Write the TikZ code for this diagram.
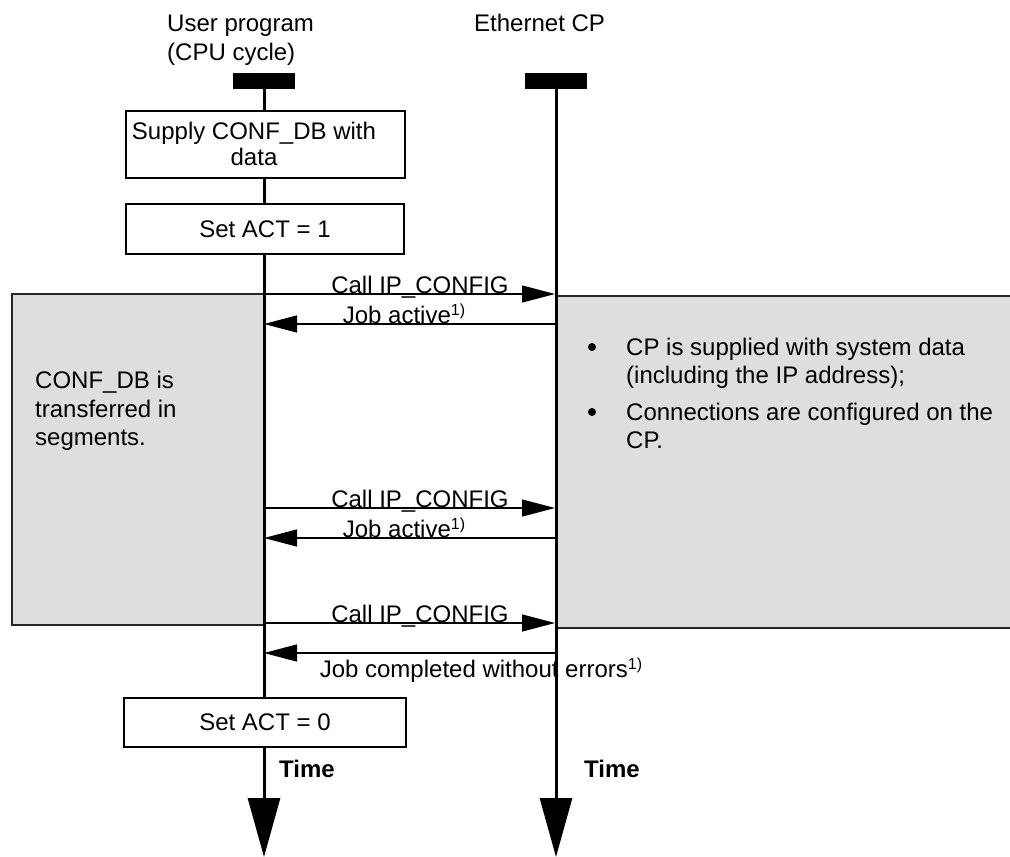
\documentclass[tikz,border=0pt]{standalone}
\usepackage{fontspec}
\setmainfont{Liberation Sans}
\usetikzlibrary{arrows.meta}
\definecolor{panelgray}{HTML}{DEDEDE}
\newcommand\supone{\raisebox{8pt}{\fontsize{16}{16}\selectfont 1)}}
\tikzset{
  txt/.style={font=\fontsize{24}{29}\selectfont, inner sep=0pt},
  stepbox/.style={draw=black, line width=1.3pt, fill=white, inner sep=2pt, align=center,
    font=\fontsize{24}{26}\selectfont},
  panel/.style={draw=black!85, line width=1.6pt, fill=panelgray},
  lifeline/.style={line width=3pt, -{Triangle[length=59pt,width=32pt]}},
  msg/.style={line width=1.3pt, -{Triangle[length=33pt,width=17pt]}},
  bar/.style={fill=black, minimum width=62pt, minimum height=16pt, inner sep=0pt},
  dot/.style={circle, fill=black, minimum size=8pt, inner sep=0pt}
}
\begin{document}
\begin{tikzpicture}[x=1pt,y=-1pt]
\useasboundingbox (0,0) rectangle (1010,857);
% grey panels
\node[panel, minimum width=253pt, minimum height=331pt, inner sep=0pt, anchor=north west] (pL) at (11,293) {};
\node[panel, minimum width=460pt, minimum height=332pt, inner sep=0pt, anchor=north west] (pR) at (556,295) {};
% titles
\node[txt, anchor=base west] (tU1) at (167,31) {User program};
\node[txt, anchor=base west] (tU2) at (167,60) {(CPU cycle)};
\node[txt, anchor=base west] (tE) at (474,31) {Ethernet CP};
% bars
\node[bar] (barL) at (264,81) {};
\node[bar] (barR) at (556,81) {};
\coordinate (endL) at (264,857);
\coordinate (endR) at (556,857);
% lifelines
\draw[lifeline] (barL.south) -- (endL);
\draw[lifeline] (barR.south) -- (endR);
% step boxes
\node[stepbox, minimum width=279pt, minimum height=67pt] (b1) at (265.5,144.5) {};
\node[txt, align=center, font=\fontsize{24}{26}\selectfont, anchor=base] (b1t) at (254,165.5) {Supply CONF\_DB with\\data};
\node[stepbox, minimum width=278pt, minimum height=50pt] (b2) at (265,229) {Set ACT = 1};
\node[stepbox, minimum width=282pt, minimum height=49pt] (b3) at (265,722.5) {Set ACT = 0};
% panel texts
\node[txt, anchor=base west] (l1) at (35,388) {CONF\_DB is};
\node[txt, anchor=base west] (l2) at (35,417) {transferred in};
\node[txt, anchor=base west] (l3) at (35,445) {segments.};
\node[dot] (bu1) at (592,347) {};
\node[txt, anchor=base west] (r1) at (626,355) {CP is supplied with system data};
\node[txt, anchor=base west] (r2) at (626,383) {(including the IP address);};
\node[dot] (bu2) at (592,412) {};
\node[txt, anchor=base west] (r3) at (626,420) {Connections are configured on the};
\node[txt, anchor=base west] (r4) at (626,448) {CP.};
% message coordinates
\coordinate (c1L) at (264,294); \coordinate (c1R) at (555,294);
\coordinate (a1L) at (264,324); \coordinate (a1R) at (555,324);
\coordinate (c2L) at (264,508); \coordinate (c2R) at (555,508);
\coordinate (a2L) at (264,538); \coordinate (a2R) at (555,538);
\coordinate (c3L) at (264,623); \coordinate (c3R) at (555,623);
\coordinate (a3L) at (264,653); \coordinate (a3R) at (555,653);
\draw[msg] (c1L) -- (c1R);
\draw[msg] (a1R) -- (a1L);
\draw[msg] (c2L) -- (c2R);
\draw[msg] (a2R) -- (a2L);
\draw[msg] (c3L) -- (c3R);
\draw[msg] (a3R) -- (a3L);
% message labels
\node[txt, anchor=base] (m1) at (420,293.5) {Call IP\_CONFIG};
\node[txt, anchor=base] (j1) at (404,323) {Job active\supone};
\node[txt, anchor=base] (m2) at (420,507.5) {Call IP\_CONFIG};
\node[txt, anchor=base] (j2) at (404,537) {Job active\supone};
\node[txt, anchor=base] (m3) at (420,622.5) {Call IP\_CONFIG};
\node[txt, anchor=base] (j3) at (481,677) {Job completed without errors\supone};
% time labels
\node[txt, anchor=base west, font=\fontsize{24}{29}\selectfont\bfseries] (time1) at (279,777) {Time};
\node[txt, anchor=base west, font=\fontsize{24}{29}\selectfont\bfseries] (time2) at (584,777) {Time};
\end{tikzpicture}
\end{document}
